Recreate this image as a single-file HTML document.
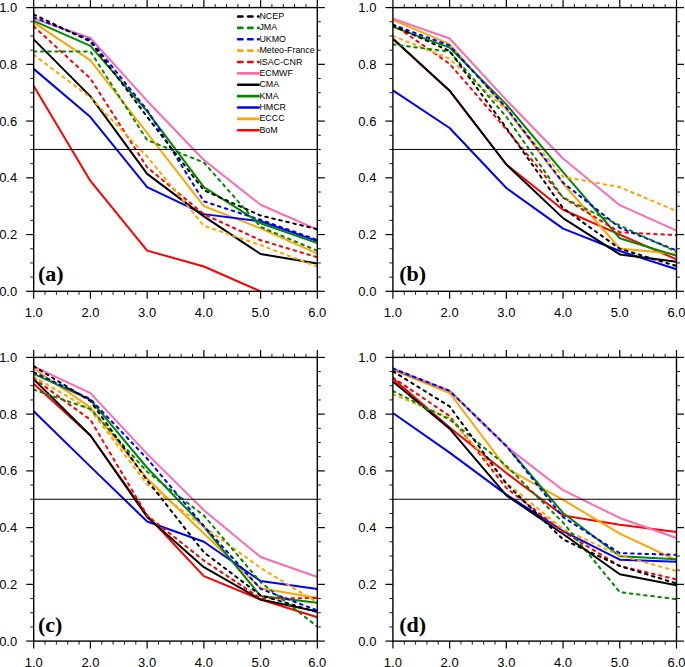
<!DOCTYPE html>
<html><head><meta charset="utf-8"><title>chart</title>
<style>html,body{margin:0;padding:0;background:#fff;}body{width:685px;height:667px;overflow:hidden;}svg{display:block;}.t{font-family:"Liberation Sans",sans-serif;font-size:13px;fill:#000;}.lg{font-family:"Liberation Sans",sans-serif;font-size:8.9px;fill:#000;}.pl{font-family:"Liberation Serif",serif;font-weight:bold;font-size:22px;fill:#000;}</style></head><body>
<svg width="685" height="667" viewBox="0 0 685 667">
<rect x="0" y="0" width="685" height="667" fill="#fff"/>
<defs>
<clipPath id="ca"><rect x="33.7" y="7.6" width="283.6" height="283.7"/></clipPath>
<clipPath id="cb"><rect x="392.9" y="7.6" width="283.6" height="283.7"/></clipPath>
<clipPath id="cc"><rect x="33.7" y="357.4" width="283.6" height="283.7"/></clipPath>
<clipPath id="cd"><rect x="392.9" y="357.4" width="283.6" height="283.7"/></clipPath>
</defs>
<g clip-path="url(#ca)" fill="none" stroke-width="2" stroke-linejoin="round">
<polyline points="33.7,85.9 90.42,180.94 147.14,250.59 203.86,266.5 260.58,291.3" stroke="#ff0000"/>
<polyline points="33.7,22.35 90.42,60.37 147.14,133 203.86,206.19 260.58,228.32 317.3,253.71" stroke="#ffa500"/>
<polyline points="33.7,68.88 90.42,117.11 147.14,187.18 203.86,214.13 260.58,221.23 317.3,241.09" stroke="#0000ff"/>
<polyline points="33.7,20.93 90.42,45.9 147.14,111.43 203.86,187.18 260.58,223.21 317.3,243.07" stroke="#008a00"/>
<polyline points="33.7,39.37 90.42,96.4 147.14,173.85 203.86,216.4 260.58,253.99 317.3,263.5" stroke="#000000"/>
<polyline points="33.7,18.66 90.42,37.96 147.14,100.94 203.86,159.95 260.58,204.77 317.3,229.6" stroke="#ff69b4"/>
<polyline points="33.7,26.32 90.42,78.53 147.14,167.32 203.86,214.13 260.58,240.23 317.3,257.26" stroke="#ff0000" stroke-dasharray="2.6 4.6" stroke-linecap="round"/>
<polyline points="33.7,54.69 90.42,97.53 147.14,156.54 203.86,225.77 260.58,245.06 317.3,266.62" stroke="#ffa500" stroke-dasharray="2.6 4.6" stroke-linecap="round"/>
<polyline points="33.7,17.25 90.42,39.94 147.14,110.02 203.86,201.37 260.58,219.81 317.3,239.95" stroke="#0000ff" stroke-dasharray="2.6 4.6" stroke-linecap="round"/>
<polyline points="33.7,51.57 90.42,51.57 147.14,140.09 203.86,162.5 260.58,226.9 317.3,250.73" stroke="#008a00" stroke-dasharray="2.6 4.6" stroke-linecap="round"/>
<polyline points="33.7,14.41 90.42,41.64 147.14,116.82 203.86,190.3 260.58,215.55 317.3,229.17" stroke="#000000" stroke-dasharray="2.6 4.6" stroke-linecap="round"/>
</g>
<line x1="33.7" y1="149.45" x2="317.3" y2="149.45" stroke="#000" stroke-width="1"/>
<g stroke="#000"><line x1="33.7" y1="7.6" x2="33.7" y2="0.1" stroke-width="1.2"/><line x1="33.7" y1="291.3" x2="33.7" y2="298.8" stroke-width="1.2"/><line x1="45.04" y1="7.6" x2="45.04" y2="4.1" stroke-width="0.9"/><line x1="45.04" y1="291.3" x2="45.04" y2="294.8" stroke-width="0.9"/><line x1="56.39" y1="7.6" x2="56.39" y2="4.1" stroke-width="0.9"/><line x1="56.39" y1="291.3" x2="56.39" y2="294.8" stroke-width="0.9"/><line x1="67.73" y1="7.6" x2="67.73" y2="4.1" stroke-width="0.9"/><line x1="67.73" y1="291.3" x2="67.73" y2="294.8" stroke-width="0.9"/><line x1="79.08" y1="7.6" x2="79.08" y2="4.1" stroke-width="0.9"/><line x1="79.08" y1="291.3" x2="79.08" y2="294.8" stroke-width="0.9"/><line x1="90.42" y1="7.6" x2="90.42" y2="0.1" stroke-width="1.2"/><line x1="90.42" y1="291.3" x2="90.42" y2="298.8" stroke-width="1.2"/><line x1="101.76" y1="7.6" x2="101.76" y2="4.1" stroke-width="0.9"/><line x1="101.76" y1="291.3" x2="101.76" y2="294.8" stroke-width="0.9"/><line x1="113.11" y1="7.6" x2="113.11" y2="4.1" stroke-width="0.9"/><line x1="113.11" y1="291.3" x2="113.11" y2="294.8" stroke-width="0.9"/><line x1="124.45" y1="7.6" x2="124.45" y2="4.1" stroke-width="0.9"/><line x1="124.45" y1="291.3" x2="124.45" y2="294.8" stroke-width="0.9"/><line x1="135.8" y1="7.6" x2="135.8" y2="4.1" stroke-width="0.9"/><line x1="135.8" y1="291.3" x2="135.8" y2="294.8" stroke-width="0.9"/><line x1="147.14" y1="7.6" x2="147.14" y2="0.1" stroke-width="1.2"/><line x1="147.14" y1="291.3" x2="147.14" y2="298.8" stroke-width="1.2"/><line x1="158.48" y1="7.6" x2="158.48" y2="4.1" stroke-width="0.9"/><line x1="158.48" y1="291.3" x2="158.48" y2="294.8" stroke-width="0.9"/><line x1="169.83" y1="7.6" x2="169.83" y2="4.1" stroke-width="0.9"/><line x1="169.83" y1="291.3" x2="169.83" y2="294.8" stroke-width="0.9"/><line x1="181.17" y1="7.6" x2="181.17" y2="4.1" stroke-width="0.9"/><line x1="181.17" y1="291.3" x2="181.17" y2="294.8" stroke-width="0.9"/><line x1="192.52" y1="7.6" x2="192.52" y2="4.1" stroke-width="0.9"/><line x1="192.52" y1="291.3" x2="192.52" y2="294.8" stroke-width="0.9"/><line x1="203.86" y1="7.6" x2="203.86" y2="0.1" stroke-width="1.2"/><line x1="203.86" y1="291.3" x2="203.86" y2="298.8" stroke-width="1.2"/><line x1="215.2" y1="7.6" x2="215.2" y2="4.1" stroke-width="0.9"/><line x1="215.2" y1="291.3" x2="215.2" y2="294.8" stroke-width="0.9"/><line x1="226.55" y1="7.6" x2="226.55" y2="4.1" stroke-width="0.9"/><line x1="226.55" y1="291.3" x2="226.55" y2="294.8" stroke-width="0.9"/><line x1="237.89" y1="7.6" x2="237.89" y2="4.1" stroke-width="0.9"/><line x1="237.89" y1="291.3" x2="237.89" y2="294.8" stroke-width="0.9"/><line x1="249.24" y1="7.6" x2="249.24" y2="4.1" stroke-width="0.9"/><line x1="249.24" y1="291.3" x2="249.24" y2="294.8" stroke-width="0.9"/><line x1="260.58" y1="7.6" x2="260.58" y2="0.1" stroke-width="1.2"/><line x1="260.58" y1="291.3" x2="260.58" y2="298.8" stroke-width="1.2"/><line x1="271.92" y1="7.6" x2="271.92" y2="4.1" stroke-width="0.9"/><line x1="271.92" y1="291.3" x2="271.92" y2="294.8" stroke-width="0.9"/><line x1="283.27" y1="7.6" x2="283.27" y2="4.1" stroke-width="0.9"/><line x1="283.27" y1="291.3" x2="283.27" y2="294.8" stroke-width="0.9"/><line x1="294.61" y1="7.6" x2="294.61" y2="4.1" stroke-width="0.9"/><line x1="294.61" y1="291.3" x2="294.61" y2="294.8" stroke-width="0.9"/><line x1="305.96" y1="7.6" x2="305.96" y2="4.1" stroke-width="0.9"/><line x1="305.96" y1="291.3" x2="305.96" y2="294.8" stroke-width="0.9"/><line x1="317.3" y1="7.6" x2="317.3" y2="0.1" stroke-width="1.2"/><line x1="317.3" y1="291.3" x2="317.3" y2="298.8" stroke-width="1.2"/><line x1="33.7" y1="291.3" x2="26.2" y2="291.3" stroke-width="1.2"/><line x1="317.3" y1="291.3" x2="324.8" y2="291.3" stroke-width="1.2"/><line x1="33.7" y1="277.12" x2="30.2" y2="277.12" stroke-width="0.9"/><line x1="317.3" y1="277.12" x2="320.8" y2="277.12" stroke-width="0.9"/><line x1="33.7" y1="262.93" x2="30.2" y2="262.93" stroke-width="0.9"/><line x1="317.3" y1="262.93" x2="320.8" y2="262.93" stroke-width="0.9"/><line x1="33.7" y1="248.75" x2="30.2" y2="248.75" stroke-width="0.9"/><line x1="317.3" y1="248.75" x2="320.8" y2="248.75" stroke-width="0.9"/><line x1="33.7" y1="234.56" x2="26.2" y2="234.56" stroke-width="1.2"/><line x1="317.3" y1="234.56" x2="324.8" y2="234.56" stroke-width="1.2"/><line x1="33.7" y1="220.38" x2="30.2" y2="220.38" stroke-width="0.9"/><line x1="317.3" y1="220.38" x2="320.8" y2="220.38" stroke-width="0.9"/><line x1="33.7" y1="206.19" x2="30.2" y2="206.19" stroke-width="0.9"/><line x1="317.3" y1="206.19" x2="320.8" y2="206.19" stroke-width="0.9"/><line x1="33.7" y1="192" x2="30.2" y2="192" stroke-width="0.9"/><line x1="317.3" y1="192" x2="320.8" y2="192" stroke-width="0.9"/><line x1="33.7" y1="177.82" x2="26.2" y2="177.82" stroke-width="1.2"/><line x1="317.3" y1="177.82" x2="324.8" y2="177.82" stroke-width="1.2"/><line x1="33.7" y1="163.64" x2="30.2" y2="163.64" stroke-width="0.9"/><line x1="317.3" y1="163.64" x2="320.8" y2="163.64" stroke-width="0.9"/><line x1="33.7" y1="149.45" x2="30.2" y2="149.45" stroke-width="0.9"/><line x1="317.3" y1="149.45" x2="320.8" y2="149.45" stroke-width="0.9"/><line x1="33.7" y1="135.27" x2="30.2" y2="135.27" stroke-width="0.9"/><line x1="317.3" y1="135.27" x2="320.8" y2="135.27" stroke-width="0.9"/><line x1="33.7" y1="121.08" x2="26.2" y2="121.08" stroke-width="1.2"/><line x1="317.3" y1="121.08" x2="324.8" y2="121.08" stroke-width="1.2"/><line x1="33.7" y1="106.9" x2="30.2" y2="106.9" stroke-width="0.9"/><line x1="317.3" y1="106.9" x2="320.8" y2="106.9" stroke-width="0.9"/><line x1="33.7" y1="92.71" x2="30.2" y2="92.71" stroke-width="0.9"/><line x1="317.3" y1="92.71" x2="320.8" y2="92.71" stroke-width="0.9"/><line x1="33.7" y1="78.53" x2="30.2" y2="78.53" stroke-width="0.9"/><line x1="317.3" y1="78.53" x2="320.8" y2="78.53" stroke-width="0.9"/><line x1="33.7" y1="64.34" x2="26.2" y2="64.34" stroke-width="1.2"/><line x1="317.3" y1="64.34" x2="324.8" y2="64.34" stroke-width="1.2"/><line x1="33.7" y1="50.16" x2="30.2" y2="50.16" stroke-width="0.9"/><line x1="317.3" y1="50.16" x2="320.8" y2="50.16" stroke-width="0.9"/><line x1="33.7" y1="35.97" x2="30.2" y2="35.97" stroke-width="0.9"/><line x1="317.3" y1="35.97" x2="320.8" y2="35.97" stroke-width="0.9"/><line x1="33.7" y1="21.79" x2="30.2" y2="21.79" stroke-width="0.9"/><line x1="317.3" y1="21.79" x2="320.8" y2="21.79" stroke-width="0.9"/><line x1="33.7" y1="7.6" x2="26.2" y2="7.6" stroke-width="1.2"/><line x1="317.3" y1="7.6" x2="324.8" y2="7.6" stroke-width="1.2"/></g>
<rect x="33.7" y="7.6" width="283.6" height="283.7" fill="none" stroke="#000" stroke-width="1.4"/>
<text class="t" x="33.7" y="317.3" text-anchor="middle">1.0</text><text class="t" x="90.42" y="317.3" text-anchor="middle">2.0</text><text class="t" x="147.14" y="317.3" text-anchor="middle">3.0</text><text class="t" x="203.86" y="317.3" text-anchor="middle">4.0</text><text class="t" x="260.58" y="317.3" text-anchor="middle">5.0</text><text class="t" x="317.3" y="317.3" text-anchor="middle">6.0</text><text class="t" x="17.2" y="295.9" text-anchor="end">0.0</text><text class="t" x="17.2" y="239.16" text-anchor="end">0.2</text><text class="t" x="17.2" y="182.42" text-anchor="end">0.4</text><text class="t" x="17.2" y="125.68" text-anchor="end">0.6</text><text class="t" x="17.2" y="68.94" text-anchor="end">0.8</text><text class="t" x="17.2" y="12.2" text-anchor="end">1.0</text>
<text class="pl" x="38" y="281.4">(a)</text>
<g clip-path="url(#cb)" fill="none" stroke-width="2" stroke-linejoin="round">
<polyline points="392.9,38.81 449.62,90.72 506.34,164.49 563.06,209.71 619.78,234.56 676.5,259.38" stroke="#ff0000"/>
<polyline points="392.9,19.8 449.62,44.2 506.34,108.88 563.06,183.49 619.78,248.46 676.5,253.99" stroke="#ffa500"/>
<polyline points="392.9,90.3 449.62,128 506.34,188.03 563.06,228.6 619.78,251.01 676.5,269.31" stroke="#0000ff"/>
<polyline points="392.9,26.89 449.62,47.6 506.34,104.34 563.06,172.15 619.78,238.25 676.5,255.84" stroke="#008a00"/>
<polyline points="392.9,38.81 449.62,90.72 506.34,164.49 563.06,218.11 619.78,254.42 676.5,261.8" stroke="#000000"/>
<polyline points="392.9,18.66 449.62,38.52 506.34,100.09 563.06,158.53 619.78,205.2 676.5,230.59" stroke="#ff69b4"/>
<polyline points="392.9,24.05 449.62,63.91 506.34,129.31 563.06,197.68 619.78,232.29 676.5,235.13" stroke="#ff0000" stroke-dasharray="2.6 4.6" stroke-linecap="round"/>
<polyline points="392.9,35.97 449.62,58.67 506.34,109.73 563.06,176.69 619.78,187.18 676.5,211.01" stroke="#ffa500" stroke-dasharray="2.6 4.6" stroke-linecap="round"/>
<polyline points="392.9,24.71 449.62,45.62 506.34,107.89 563.06,182.64 619.78,227.75 676.5,250.45" stroke="#0000ff" stroke-dasharray="2.6 4.6" stroke-linecap="round"/>
<polyline points="392.9,44.48 449.62,51.57 506.34,116.82 563.06,197.68 619.78,225.48 676.5,251.87" stroke="#008a00" stroke-dasharray="2.6 4.6" stroke-linecap="round"/>
<polyline points="392.9,25.61 449.62,51.01 506.34,127.89 563.06,208.18 619.78,248.75 676.5,266.05" stroke="#000000" stroke-dasharray="2.6 4.6" stroke-linecap="round"/>
</g>
<line x1="392.9" y1="149.45" x2="676.5" y2="149.45" stroke="#000" stroke-width="1"/>
<g stroke="#000"><line x1="392.9" y1="7.6" x2="392.9" y2="0.1" stroke-width="1.2"/><line x1="392.9" y1="291.3" x2="392.9" y2="298.8" stroke-width="1.2"/><line x1="404.24" y1="7.6" x2="404.24" y2="4.1" stroke-width="0.9"/><line x1="404.24" y1="291.3" x2="404.24" y2="294.8" stroke-width="0.9"/><line x1="415.59" y1="7.6" x2="415.59" y2="4.1" stroke-width="0.9"/><line x1="415.59" y1="291.3" x2="415.59" y2="294.8" stroke-width="0.9"/><line x1="426.93" y1="7.6" x2="426.93" y2="4.1" stroke-width="0.9"/><line x1="426.93" y1="291.3" x2="426.93" y2="294.8" stroke-width="0.9"/><line x1="438.28" y1="7.6" x2="438.28" y2="4.1" stroke-width="0.9"/><line x1="438.28" y1="291.3" x2="438.28" y2="294.8" stroke-width="0.9"/><line x1="449.62" y1="7.6" x2="449.62" y2="0.1" stroke-width="1.2"/><line x1="449.62" y1="291.3" x2="449.62" y2="298.8" stroke-width="1.2"/><line x1="460.96" y1="7.6" x2="460.96" y2="4.1" stroke-width="0.9"/><line x1="460.96" y1="291.3" x2="460.96" y2="294.8" stroke-width="0.9"/><line x1="472.31" y1="7.6" x2="472.31" y2="4.1" stroke-width="0.9"/><line x1="472.31" y1="291.3" x2="472.31" y2="294.8" stroke-width="0.9"/><line x1="483.65" y1="7.6" x2="483.65" y2="4.1" stroke-width="0.9"/><line x1="483.65" y1="291.3" x2="483.65" y2="294.8" stroke-width="0.9"/><line x1="495" y1="7.6" x2="495" y2="4.1" stroke-width="0.9"/><line x1="495" y1="291.3" x2="495" y2="294.8" stroke-width="0.9"/><line x1="506.34" y1="7.6" x2="506.34" y2="0.1" stroke-width="1.2"/><line x1="506.34" y1="291.3" x2="506.34" y2="298.8" stroke-width="1.2"/><line x1="517.68" y1="7.6" x2="517.68" y2="4.1" stroke-width="0.9"/><line x1="517.68" y1="291.3" x2="517.68" y2="294.8" stroke-width="0.9"/><line x1="529.03" y1="7.6" x2="529.03" y2="4.1" stroke-width="0.9"/><line x1="529.03" y1="291.3" x2="529.03" y2="294.8" stroke-width="0.9"/><line x1="540.37" y1="7.6" x2="540.37" y2="4.1" stroke-width="0.9"/><line x1="540.37" y1="291.3" x2="540.37" y2="294.8" stroke-width="0.9"/><line x1="551.72" y1="7.6" x2="551.72" y2="4.1" stroke-width="0.9"/><line x1="551.72" y1="291.3" x2="551.72" y2="294.8" stroke-width="0.9"/><line x1="563.06" y1="7.6" x2="563.06" y2="0.1" stroke-width="1.2"/><line x1="563.06" y1="291.3" x2="563.06" y2="298.8" stroke-width="1.2"/><line x1="574.4" y1="7.6" x2="574.4" y2="4.1" stroke-width="0.9"/><line x1="574.4" y1="291.3" x2="574.4" y2="294.8" stroke-width="0.9"/><line x1="585.75" y1="7.6" x2="585.75" y2="4.1" stroke-width="0.9"/><line x1="585.75" y1="291.3" x2="585.75" y2="294.8" stroke-width="0.9"/><line x1="597.09" y1="7.6" x2="597.09" y2="4.1" stroke-width="0.9"/><line x1="597.09" y1="291.3" x2="597.09" y2="294.8" stroke-width="0.9"/><line x1="608.44" y1="7.6" x2="608.44" y2="4.1" stroke-width="0.9"/><line x1="608.44" y1="291.3" x2="608.44" y2="294.8" stroke-width="0.9"/><line x1="619.78" y1="7.6" x2="619.78" y2="0.1" stroke-width="1.2"/><line x1="619.78" y1="291.3" x2="619.78" y2="298.8" stroke-width="1.2"/><line x1="631.12" y1="7.6" x2="631.12" y2="4.1" stroke-width="0.9"/><line x1="631.12" y1="291.3" x2="631.12" y2="294.8" stroke-width="0.9"/><line x1="642.47" y1="7.6" x2="642.47" y2="4.1" stroke-width="0.9"/><line x1="642.47" y1="291.3" x2="642.47" y2="294.8" stroke-width="0.9"/><line x1="653.81" y1="7.6" x2="653.81" y2="4.1" stroke-width="0.9"/><line x1="653.81" y1="291.3" x2="653.81" y2="294.8" stroke-width="0.9"/><line x1="665.16" y1="7.6" x2="665.16" y2="4.1" stroke-width="0.9"/><line x1="665.16" y1="291.3" x2="665.16" y2="294.8" stroke-width="0.9"/><line x1="676.5" y1="7.6" x2="676.5" y2="0.1" stroke-width="1.2"/><line x1="676.5" y1="291.3" x2="676.5" y2="298.8" stroke-width="1.2"/><line x1="392.9" y1="291.3" x2="385.4" y2="291.3" stroke-width="1.2"/><line x1="676.5" y1="291.3" x2="684" y2="291.3" stroke-width="1.2"/><line x1="392.9" y1="277.12" x2="389.4" y2="277.12" stroke-width="0.9"/><line x1="676.5" y1="277.12" x2="680" y2="277.12" stroke-width="0.9"/><line x1="392.9" y1="262.93" x2="389.4" y2="262.93" stroke-width="0.9"/><line x1="676.5" y1="262.93" x2="680" y2="262.93" stroke-width="0.9"/><line x1="392.9" y1="248.75" x2="389.4" y2="248.75" stroke-width="0.9"/><line x1="676.5" y1="248.75" x2="680" y2="248.75" stroke-width="0.9"/><line x1="392.9" y1="234.56" x2="385.4" y2="234.56" stroke-width="1.2"/><line x1="676.5" y1="234.56" x2="684" y2="234.56" stroke-width="1.2"/><line x1="392.9" y1="220.38" x2="389.4" y2="220.38" stroke-width="0.9"/><line x1="676.5" y1="220.38" x2="680" y2="220.38" stroke-width="0.9"/><line x1="392.9" y1="206.19" x2="389.4" y2="206.19" stroke-width="0.9"/><line x1="676.5" y1="206.19" x2="680" y2="206.19" stroke-width="0.9"/><line x1="392.9" y1="192" x2="389.4" y2="192" stroke-width="0.9"/><line x1="676.5" y1="192" x2="680" y2="192" stroke-width="0.9"/><line x1="392.9" y1="177.82" x2="385.4" y2="177.82" stroke-width="1.2"/><line x1="676.5" y1="177.82" x2="684" y2="177.82" stroke-width="1.2"/><line x1="392.9" y1="163.64" x2="389.4" y2="163.64" stroke-width="0.9"/><line x1="676.5" y1="163.64" x2="680" y2="163.64" stroke-width="0.9"/><line x1="392.9" y1="149.45" x2="389.4" y2="149.45" stroke-width="0.9"/><line x1="676.5" y1="149.45" x2="680" y2="149.45" stroke-width="0.9"/><line x1="392.9" y1="135.27" x2="389.4" y2="135.27" stroke-width="0.9"/><line x1="676.5" y1="135.27" x2="680" y2="135.27" stroke-width="0.9"/><line x1="392.9" y1="121.08" x2="385.4" y2="121.08" stroke-width="1.2"/><line x1="676.5" y1="121.08" x2="684" y2="121.08" stroke-width="1.2"/><line x1="392.9" y1="106.9" x2="389.4" y2="106.9" stroke-width="0.9"/><line x1="676.5" y1="106.9" x2="680" y2="106.9" stroke-width="0.9"/><line x1="392.9" y1="92.71" x2="389.4" y2="92.71" stroke-width="0.9"/><line x1="676.5" y1="92.71" x2="680" y2="92.71" stroke-width="0.9"/><line x1="392.9" y1="78.53" x2="389.4" y2="78.53" stroke-width="0.9"/><line x1="676.5" y1="78.53" x2="680" y2="78.53" stroke-width="0.9"/><line x1="392.9" y1="64.34" x2="385.4" y2="64.34" stroke-width="1.2"/><line x1="676.5" y1="64.34" x2="684" y2="64.34" stroke-width="1.2"/><line x1="392.9" y1="50.16" x2="389.4" y2="50.16" stroke-width="0.9"/><line x1="676.5" y1="50.16" x2="680" y2="50.16" stroke-width="0.9"/><line x1="392.9" y1="35.97" x2="389.4" y2="35.97" stroke-width="0.9"/><line x1="676.5" y1="35.97" x2="680" y2="35.97" stroke-width="0.9"/><line x1="392.9" y1="21.79" x2="389.4" y2="21.79" stroke-width="0.9"/><line x1="676.5" y1="21.79" x2="680" y2="21.79" stroke-width="0.9"/><line x1="392.9" y1="7.6" x2="385.4" y2="7.6" stroke-width="1.2"/><line x1="676.5" y1="7.6" x2="684" y2="7.6" stroke-width="1.2"/></g>
<rect x="392.9" y="7.6" width="283.6" height="283.7" fill="none" stroke="#000" stroke-width="1.4"/>
<text class="t" x="392.9" y="317.3" text-anchor="middle">1.0</text><text class="t" x="449.62" y="317.3" text-anchor="middle">2.0</text><text class="t" x="506.34" y="317.3" text-anchor="middle">3.0</text><text class="t" x="563.06" y="317.3" text-anchor="middle">4.0</text><text class="t" x="619.78" y="317.3" text-anchor="middle">5.0</text><text class="t" x="676.5" y="317.3" text-anchor="middle">6.0</text><text class="t" x="376.4" y="295.9" text-anchor="end">0.0</text><text class="t" x="376.4" y="239.16" text-anchor="end">0.2</text><text class="t" x="376.4" y="182.42" text-anchor="end">0.4</text><text class="t" x="376.4" y="125.68" text-anchor="end">0.6</text><text class="t" x="376.4" y="68.94" text-anchor="end">0.8</text><text class="t" x="376.4" y="12.2" text-anchor="end">1.0</text>
<text class="pl" x="399.2" y="281.4">(b)</text>
<g clip-path="url(#cc)" fill="none" stroke-width="2" stroke-linejoin="round">
<polyline points="33.7,383.78 90.42,435.5 147.14,515.51 203.86,576.19 260.58,599.51 317.3,617.3" stroke="#ff0000"/>
<polyline points="33.7,368.46 90.42,407.33 147.14,478.54 203.86,533.58 260.58,588.19 317.3,598.09" stroke="#ffa500"/>
<polyline points="33.7,411.3 90.42,466.62 147.14,521.49 203.86,541.8 260.58,581.01 317.3,589.01" stroke="#0000ff"/>
<polyline points="33.7,373.85 90.42,399.81 147.14,467.76 203.86,526.77 260.58,595.99 317.3,602.8" stroke="#008a00"/>
<polyline points="33.7,379.24 90.42,435.5 147.14,516.9 203.86,567.2 260.58,599.51 317.3,611.6" stroke="#000000"/>
<polyline points="33.7,366.48 90.42,393.15 147.14,453.86 203.86,510.2 260.58,556.98 317.3,576.98" stroke="#ff69b4"/>
<polyline points="33.7,378.39 90.42,419.81 147.14,515.51 203.86,560.53 260.58,598.26 317.3,598.09" stroke="#ff0000" stroke-dasharray="2.6 4.6" stroke-linecap="round"/>
<polyline points="33.7,376.69 90.42,410 147.14,484.21 203.86,526.77 260.58,567.91 317.3,602.6" stroke="#ffa500" stroke-dasharray="2.6 4.6" stroke-linecap="round"/>
<polyline points="33.7,372.15 90.42,399.1 147.14,458.68 203.86,526 260.58,588.81 317.3,610.46" stroke="#0000ff" stroke-dasharray="2.6 4.6" stroke-linecap="round"/>
<polyline points="33.7,389.6 90.42,409.03 147.14,471.73 203.86,515.51 260.58,582.2 317.3,626.49" stroke="#008a00" stroke-dasharray="2.6 4.6" stroke-linecap="round"/>
<polyline points="33.7,366.19 90.42,401.09 147.14,480.24 203.86,552.3 260.58,595.31 317.3,612.16" stroke="#000000" stroke-dasharray="2.6 4.6" stroke-linecap="round"/>
</g>
<line x1="33.7" y1="499.25" x2="317.3" y2="499.25" stroke="#000" stroke-width="1"/>
<g stroke="#000"><line x1="33.7" y1="357.4" x2="33.7" y2="349.9" stroke-width="1.2"/><line x1="33.7" y1="641.1" x2="33.7" y2="648.6" stroke-width="1.2"/><line x1="45.04" y1="357.4" x2="45.04" y2="353.9" stroke-width="0.9"/><line x1="45.04" y1="641.1" x2="45.04" y2="644.6" stroke-width="0.9"/><line x1="56.39" y1="357.4" x2="56.39" y2="353.9" stroke-width="0.9"/><line x1="56.39" y1="641.1" x2="56.39" y2="644.6" stroke-width="0.9"/><line x1="67.73" y1="357.4" x2="67.73" y2="353.9" stroke-width="0.9"/><line x1="67.73" y1="641.1" x2="67.73" y2="644.6" stroke-width="0.9"/><line x1="79.08" y1="357.4" x2="79.08" y2="353.9" stroke-width="0.9"/><line x1="79.08" y1="641.1" x2="79.08" y2="644.6" stroke-width="0.9"/><line x1="90.42" y1="357.4" x2="90.42" y2="349.9" stroke-width="1.2"/><line x1="90.42" y1="641.1" x2="90.42" y2="648.6" stroke-width="1.2"/><line x1="101.76" y1="357.4" x2="101.76" y2="353.9" stroke-width="0.9"/><line x1="101.76" y1="641.1" x2="101.76" y2="644.6" stroke-width="0.9"/><line x1="113.11" y1="357.4" x2="113.11" y2="353.9" stroke-width="0.9"/><line x1="113.11" y1="641.1" x2="113.11" y2="644.6" stroke-width="0.9"/><line x1="124.45" y1="357.4" x2="124.45" y2="353.9" stroke-width="0.9"/><line x1="124.45" y1="641.1" x2="124.45" y2="644.6" stroke-width="0.9"/><line x1="135.8" y1="357.4" x2="135.8" y2="353.9" stroke-width="0.9"/><line x1="135.8" y1="641.1" x2="135.8" y2="644.6" stroke-width="0.9"/><line x1="147.14" y1="357.4" x2="147.14" y2="349.9" stroke-width="1.2"/><line x1="147.14" y1="641.1" x2="147.14" y2="648.6" stroke-width="1.2"/><line x1="158.48" y1="357.4" x2="158.48" y2="353.9" stroke-width="0.9"/><line x1="158.48" y1="641.1" x2="158.48" y2="644.6" stroke-width="0.9"/><line x1="169.83" y1="357.4" x2="169.83" y2="353.9" stroke-width="0.9"/><line x1="169.83" y1="641.1" x2="169.83" y2="644.6" stroke-width="0.9"/><line x1="181.17" y1="357.4" x2="181.17" y2="353.9" stroke-width="0.9"/><line x1="181.17" y1="641.1" x2="181.17" y2="644.6" stroke-width="0.9"/><line x1="192.52" y1="357.4" x2="192.52" y2="353.9" stroke-width="0.9"/><line x1="192.52" y1="641.1" x2="192.52" y2="644.6" stroke-width="0.9"/><line x1="203.86" y1="357.4" x2="203.86" y2="349.9" stroke-width="1.2"/><line x1="203.86" y1="641.1" x2="203.86" y2="648.6" stroke-width="1.2"/><line x1="215.2" y1="357.4" x2="215.2" y2="353.9" stroke-width="0.9"/><line x1="215.2" y1="641.1" x2="215.2" y2="644.6" stroke-width="0.9"/><line x1="226.55" y1="357.4" x2="226.55" y2="353.9" stroke-width="0.9"/><line x1="226.55" y1="641.1" x2="226.55" y2="644.6" stroke-width="0.9"/><line x1="237.89" y1="357.4" x2="237.89" y2="353.9" stroke-width="0.9"/><line x1="237.89" y1="641.1" x2="237.89" y2="644.6" stroke-width="0.9"/><line x1="249.24" y1="357.4" x2="249.24" y2="353.9" stroke-width="0.9"/><line x1="249.24" y1="641.1" x2="249.24" y2="644.6" stroke-width="0.9"/><line x1="260.58" y1="357.4" x2="260.58" y2="349.9" stroke-width="1.2"/><line x1="260.58" y1="641.1" x2="260.58" y2="648.6" stroke-width="1.2"/><line x1="271.92" y1="357.4" x2="271.92" y2="353.9" stroke-width="0.9"/><line x1="271.92" y1="641.1" x2="271.92" y2="644.6" stroke-width="0.9"/><line x1="283.27" y1="357.4" x2="283.27" y2="353.9" stroke-width="0.9"/><line x1="283.27" y1="641.1" x2="283.27" y2="644.6" stroke-width="0.9"/><line x1="294.61" y1="357.4" x2="294.61" y2="353.9" stroke-width="0.9"/><line x1="294.61" y1="641.1" x2="294.61" y2="644.6" stroke-width="0.9"/><line x1="305.96" y1="357.4" x2="305.96" y2="353.9" stroke-width="0.9"/><line x1="305.96" y1="641.1" x2="305.96" y2="644.6" stroke-width="0.9"/><line x1="317.3" y1="357.4" x2="317.3" y2="349.9" stroke-width="1.2"/><line x1="317.3" y1="641.1" x2="317.3" y2="648.6" stroke-width="1.2"/><line x1="33.7" y1="641.1" x2="26.2" y2="641.1" stroke-width="1.2"/><line x1="317.3" y1="641.1" x2="324.8" y2="641.1" stroke-width="1.2"/><line x1="33.7" y1="626.91" x2="30.2" y2="626.91" stroke-width="0.9"/><line x1="317.3" y1="626.91" x2="320.8" y2="626.91" stroke-width="0.9"/><line x1="33.7" y1="612.73" x2="30.2" y2="612.73" stroke-width="0.9"/><line x1="317.3" y1="612.73" x2="320.8" y2="612.73" stroke-width="0.9"/><line x1="33.7" y1="598.54" x2="30.2" y2="598.54" stroke-width="0.9"/><line x1="317.3" y1="598.54" x2="320.8" y2="598.54" stroke-width="0.9"/><line x1="33.7" y1="584.36" x2="26.2" y2="584.36" stroke-width="1.2"/><line x1="317.3" y1="584.36" x2="324.8" y2="584.36" stroke-width="1.2"/><line x1="33.7" y1="570.17" x2="30.2" y2="570.17" stroke-width="0.9"/><line x1="317.3" y1="570.17" x2="320.8" y2="570.17" stroke-width="0.9"/><line x1="33.7" y1="555.99" x2="30.2" y2="555.99" stroke-width="0.9"/><line x1="317.3" y1="555.99" x2="320.8" y2="555.99" stroke-width="0.9"/><line x1="33.7" y1="541.8" x2="30.2" y2="541.8" stroke-width="0.9"/><line x1="317.3" y1="541.8" x2="320.8" y2="541.8" stroke-width="0.9"/><line x1="33.7" y1="527.62" x2="26.2" y2="527.62" stroke-width="1.2"/><line x1="317.3" y1="527.62" x2="324.8" y2="527.62" stroke-width="1.2"/><line x1="33.7" y1="513.43" x2="30.2" y2="513.43" stroke-width="0.9"/><line x1="317.3" y1="513.43" x2="320.8" y2="513.43" stroke-width="0.9"/><line x1="33.7" y1="499.25" x2="30.2" y2="499.25" stroke-width="0.9"/><line x1="317.3" y1="499.25" x2="320.8" y2="499.25" stroke-width="0.9"/><line x1="33.7" y1="485.06" x2="30.2" y2="485.06" stroke-width="0.9"/><line x1="317.3" y1="485.06" x2="320.8" y2="485.06" stroke-width="0.9"/><line x1="33.7" y1="470.88" x2="26.2" y2="470.88" stroke-width="1.2"/><line x1="317.3" y1="470.88" x2="324.8" y2="470.88" stroke-width="1.2"/><line x1="33.7" y1="456.69" x2="30.2" y2="456.69" stroke-width="0.9"/><line x1="317.3" y1="456.69" x2="320.8" y2="456.69" stroke-width="0.9"/><line x1="33.7" y1="442.51" x2="30.2" y2="442.51" stroke-width="0.9"/><line x1="317.3" y1="442.51" x2="320.8" y2="442.51" stroke-width="0.9"/><line x1="33.7" y1="428.32" x2="30.2" y2="428.32" stroke-width="0.9"/><line x1="317.3" y1="428.32" x2="320.8" y2="428.32" stroke-width="0.9"/><line x1="33.7" y1="414.14" x2="26.2" y2="414.14" stroke-width="1.2"/><line x1="317.3" y1="414.14" x2="324.8" y2="414.14" stroke-width="1.2"/><line x1="33.7" y1="399.95" x2="30.2" y2="399.95" stroke-width="0.9"/><line x1="317.3" y1="399.95" x2="320.8" y2="399.95" stroke-width="0.9"/><line x1="33.7" y1="385.77" x2="30.2" y2="385.77" stroke-width="0.9"/><line x1="317.3" y1="385.77" x2="320.8" y2="385.77" stroke-width="0.9"/><line x1="33.7" y1="371.58" x2="30.2" y2="371.58" stroke-width="0.9"/><line x1="317.3" y1="371.58" x2="320.8" y2="371.58" stroke-width="0.9"/><line x1="33.7" y1="357.4" x2="26.2" y2="357.4" stroke-width="1.2"/><line x1="317.3" y1="357.4" x2="324.8" y2="357.4" stroke-width="1.2"/></g>
<rect x="33.7" y="357.4" width="283.6" height="283.7" fill="none" stroke="#000" stroke-width="1.4"/>
<text class="t" x="33.7" y="667.1" text-anchor="middle">1.0</text><text class="t" x="90.42" y="667.1" text-anchor="middle">2.0</text><text class="t" x="147.14" y="667.1" text-anchor="middle">3.0</text><text class="t" x="203.86" y="667.1" text-anchor="middle">4.0</text><text class="t" x="260.58" y="667.1" text-anchor="middle">5.0</text><text class="t" x="317.3" y="667.1" text-anchor="middle">6.0</text><text class="t" x="17.2" y="645.7" text-anchor="end">0.0</text><text class="t" x="17.2" y="588.96" text-anchor="end">0.2</text><text class="t" x="17.2" y="532.22" text-anchor="end">0.4</text><text class="t" x="17.2" y="475.48" text-anchor="end">0.6</text><text class="t" x="17.2" y="418.74" text-anchor="end">0.8</text><text class="t" x="17.2" y="362" text-anchor="end">1.0</text>
<text class="pl" x="38" y="631.9">(c)</text>
<g clip-path="url(#cd)" fill="none" stroke-width="2" stroke-linejoin="round">
<polyline points="392.9,378.39 449.62,427.47 506.34,473.01 563.06,515.42 619.78,524.78 676.5,531.99" stroke="#ff0000"/>
<polyline points="392.9,369.88 449.62,393 506.34,468.18 563.06,499.82 619.78,533.69 676.5,560.25" stroke="#ffa500"/>
<polyline points="392.9,413.01 449.62,452.58 506.34,494.6 563.06,531.02 619.78,559.68 676.5,561.66" stroke="#0000ff"/>
<polyline points="392.9,369.32 449.62,390.88 506.34,445.91 563.06,513.01 619.78,556.27 676.5,559.31" stroke="#008a00"/>
<polyline points="392.9,381.51 449.62,428.61 506.34,495.39 563.06,534 619.78,574.2 676.5,585.3" stroke="#000000"/>
<polyline points="392.9,368.46 449.62,390.88 506.34,446.6 563.06,490.17 619.78,517.97 676.5,538" stroke="#ff69b4"/>
<polyline points="392.9,377.54 449.62,415.98 506.34,487.99 563.06,531.59 619.78,566 676.5,579.4" stroke="#ff0000" stroke-dasharray="2.6 4.6" stroke-linecap="round"/>
<polyline points="392.9,394.28 449.62,417.83 506.34,482.8 563.06,529.04 619.78,555.51 676.5,571.03" stroke="#ffa500" stroke-dasharray="2.6 4.6" stroke-linecap="round"/>
<polyline points="392.9,368.46 449.62,390.88 506.34,445.91 563.06,517.21 619.78,553.15 676.5,554.8" stroke="#0000ff" stroke-dasharray="2.6 4.6" stroke-linecap="round"/>
<polyline points="392.9,390.99 449.62,419.53 506.34,465.77 563.06,522.6 619.78,592.19 676.5,599.11" stroke="#008a00" stroke-dasharray="2.6 4.6" stroke-linecap="round"/>
<polyline points="392.9,371.3 449.62,406.39 506.34,483.79 563.06,539.39 619.78,566 676.5,583.51" stroke="#000000" stroke-dasharray="2.6 4.6" stroke-linecap="round"/>
</g>
<line x1="392.9" y1="499.25" x2="676.5" y2="499.25" stroke="#000" stroke-width="1"/>
<g stroke="#000"><line x1="392.9" y1="357.4" x2="392.9" y2="349.9" stroke-width="1.2"/><line x1="392.9" y1="641.1" x2="392.9" y2="648.6" stroke-width="1.2"/><line x1="404.24" y1="357.4" x2="404.24" y2="353.9" stroke-width="0.9"/><line x1="404.24" y1="641.1" x2="404.24" y2="644.6" stroke-width="0.9"/><line x1="415.59" y1="357.4" x2="415.59" y2="353.9" stroke-width="0.9"/><line x1="415.59" y1="641.1" x2="415.59" y2="644.6" stroke-width="0.9"/><line x1="426.93" y1="357.4" x2="426.93" y2="353.9" stroke-width="0.9"/><line x1="426.93" y1="641.1" x2="426.93" y2="644.6" stroke-width="0.9"/><line x1="438.28" y1="357.4" x2="438.28" y2="353.9" stroke-width="0.9"/><line x1="438.28" y1="641.1" x2="438.28" y2="644.6" stroke-width="0.9"/><line x1="449.62" y1="357.4" x2="449.62" y2="349.9" stroke-width="1.2"/><line x1="449.62" y1="641.1" x2="449.62" y2="648.6" stroke-width="1.2"/><line x1="460.96" y1="357.4" x2="460.96" y2="353.9" stroke-width="0.9"/><line x1="460.96" y1="641.1" x2="460.96" y2="644.6" stroke-width="0.9"/><line x1="472.31" y1="357.4" x2="472.31" y2="353.9" stroke-width="0.9"/><line x1="472.31" y1="641.1" x2="472.31" y2="644.6" stroke-width="0.9"/><line x1="483.65" y1="357.4" x2="483.65" y2="353.9" stroke-width="0.9"/><line x1="483.65" y1="641.1" x2="483.65" y2="644.6" stroke-width="0.9"/><line x1="495" y1="357.4" x2="495" y2="353.9" stroke-width="0.9"/><line x1="495" y1="641.1" x2="495" y2="644.6" stroke-width="0.9"/><line x1="506.34" y1="357.4" x2="506.34" y2="349.9" stroke-width="1.2"/><line x1="506.34" y1="641.1" x2="506.34" y2="648.6" stroke-width="1.2"/><line x1="517.68" y1="357.4" x2="517.68" y2="353.9" stroke-width="0.9"/><line x1="517.68" y1="641.1" x2="517.68" y2="644.6" stroke-width="0.9"/><line x1="529.03" y1="357.4" x2="529.03" y2="353.9" stroke-width="0.9"/><line x1="529.03" y1="641.1" x2="529.03" y2="644.6" stroke-width="0.9"/><line x1="540.37" y1="357.4" x2="540.37" y2="353.9" stroke-width="0.9"/><line x1="540.37" y1="641.1" x2="540.37" y2="644.6" stroke-width="0.9"/><line x1="551.72" y1="357.4" x2="551.72" y2="353.9" stroke-width="0.9"/><line x1="551.72" y1="641.1" x2="551.72" y2="644.6" stroke-width="0.9"/><line x1="563.06" y1="357.4" x2="563.06" y2="349.9" stroke-width="1.2"/><line x1="563.06" y1="641.1" x2="563.06" y2="648.6" stroke-width="1.2"/><line x1="574.4" y1="357.4" x2="574.4" y2="353.9" stroke-width="0.9"/><line x1="574.4" y1="641.1" x2="574.4" y2="644.6" stroke-width="0.9"/><line x1="585.75" y1="357.4" x2="585.75" y2="353.9" stroke-width="0.9"/><line x1="585.75" y1="641.1" x2="585.75" y2="644.6" stroke-width="0.9"/><line x1="597.09" y1="357.4" x2="597.09" y2="353.9" stroke-width="0.9"/><line x1="597.09" y1="641.1" x2="597.09" y2="644.6" stroke-width="0.9"/><line x1="608.44" y1="357.4" x2="608.44" y2="353.9" stroke-width="0.9"/><line x1="608.44" y1="641.1" x2="608.44" y2="644.6" stroke-width="0.9"/><line x1="619.78" y1="357.4" x2="619.78" y2="349.9" stroke-width="1.2"/><line x1="619.78" y1="641.1" x2="619.78" y2="648.6" stroke-width="1.2"/><line x1="631.12" y1="357.4" x2="631.12" y2="353.9" stroke-width="0.9"/><line x1="631.12" y1="641.1" x2="631.12" y2="644.6" stroke-width="0.9"/><line x1="642.47" y1="357.4" x2="642.47" y2="353.9" stroke-width="0.9"/><line x1="642.47" y1="641.1" x2="642.47" y2="644.6" stroke-width="0.9"/><line x1="653.81" y1="357.4" x2="653.81" y2="353.9" stroke-width="0.9"/><line x1="653.81" y1="641.1" x2="653.81" y2="644.6" stroke-width="0.9"/><line x1="665.16" y1="357.4" x2="665.16" y2="353.9" stroke-width="0.9"/><line x1="665.16" y1="641.1" x2="665.16" y2="644.6" stroke-width="0.9"/><line x1="676.5" y1="357.4" x2="676.5" y2="349.9" stroke-width="1.2"/><line x1="676.5" y1="641.1" x2="676.5" y2="648.6" stroke-width="1.2"/><line x1="392.9" y1="641.1" x2="385.4" y2="641.1" stroke-width="1.2"/><line x1="676.5" y1="641.1" x2="684" y2="641.1" stroke-width="1.2"/><line x1="392.9" y1="626.91" x2="389.4" y2="626.91" stroke-width="0.9"/><line x1="676.5" y1="626.91" x2="680" y2="626.91" stroke-width="0.9"/><line x1="392.9" y1="612.73" x2="389.4" y2="612.73" stroke-width="0.9"/><line x1="676.5" y1="612.73" x2="680" y2="612.73" stroke-width="0.9"/><line x1="392.9" y1="598.54" x2="389.4" y2="598.54" stroke-width="0.9"/><line x1="676.5" y1="598.54" x2="680" y2="598.54" stroke-width="0.9"/><line x1="392.9" y1="584.36" x2="385.4" y2="584.36" stroke-width="1.2"/><line x1="676.5" y1="584.36" x2="684" y2="584.36" stroke-width="1.2"/><line x1="392.9" y1="570.17" x2="389.4" y2="570.17" stroke-width="0.9"/><line x1="676.5" y1="570.17" x2="680" y2="570.17" stroke-width="0.9"/><line x1="392.9" y1="555.99" x2="389.4" y2="555.99" stroke-width="0.9"/><line x1="676.5" y1="555.99" x2="680" y2="555.99" stroke-width="0.9"/><line x1="392.9" y1="541.8" x2="389.4" y2="541.8" stroke-width="0.9"/><line x1="676.5" y1="541.8" x2="680" y2="541.8" stroke-width="0.9"/><line x1="392.9" y1="527.62" x2="385.4" y2="527.62" stroke-width="1.2"/><line x1="676.5" y1="527.62" x2="684" y2="527.62" stroke-width="1.2"/><line x1="392.9" y1="513.43" x2="389.4" y2="513.43" stroke-width="0.9"/><line x1="676.5" y1="513.43" x2="680" y2="513.43" stroke-width="0.9"/><line x1="392.9" y1="499.25" x2="389.4" y2="499.25" stroke-width="0.9"/><line x1="676.5" y1="499.25" x2="680" y2="499.25" stroke-width="0.9"/><line x1="392.9" y1="485.06" x2="389.4" y2="485.06" stroke-width="0.9"/><line x1="676.5" y1="485.06" x2="680" y2="485.06" stroke-width="0.9"/><line x1="392.9" y1="470.88" x2="385.4" y2="470.88" stroke-width="1.2"/><line x1="676.5" y1="470.88" x2="684" y2="470.88" stroke-width="1.2"/><line x1="392.9" y1="456.69" x2="389.4" y2="456.69" stroke-width="0.9"/><line x1="676.5" y1="456.69" x2="680" y2="456.69" stroke-width="0.9"/><line x1="392.9" y1="442.51" x2="389.4" y2="442.51" stroke-width="0.9"/><line x1="676.5" y1="442.51" x2="680" y2="442.51" stroke-width="0.9"/><line x1="392.9" y1="428.32" x2="389.4" y2="428.32" stroke-width="0.9"/><line x1="676.5" y1="428.32" x2="680" y2="428.32" stroke-width="0.9"/><line x1="392.9" y1="414.14" x2="385.4" y2="414.14" stroke-width="1.2"/><line x1="676.5" y1="414.14" x2="684" y2="414.14" stroke-width="1.2"/><line x1="392.9" y1="399.95" x2="389.4" y2="399.95" stroke-width="0.9"/><line x1="676.5" y1="399.95" x2="680" y2="399.95" stroke-width="0.9"/><line x1="392.9" y1="385.77" x2="389.4" y2="385.77" stroke-width="0.9"/><line x1="676.5" y1="385.77" x2="680" y2="385.77" stroke-width="0.9"/><line x1="392.9" y1="371.58" x2="389.4" y2="371.58" stroke-width="0.9"/><line x1="676.5" y1="371.58" x2="680" y2="371.58" stroke-width="0.9"/><line x1="392.9" y1="357.4" x2="385.4" y2="357.4" stroke-width="1.2"/><line x1="676.5" y1="357.4" x2="684" y2="357.4" stroke-width="1.2"/></g>
<rect x="392.9" y="357.4" width="283.6" height="283.7" fill="none" stroke="#000" stroke-width="1.4"/>
<text class="t" x="392.9" y="667.1" text-anchor="middle">1.0</text><text class="t" x="449.62" y="667.1" text-anchor="middle">2.0</text><text class="t" x="506.34" y="667.1" text-anchor="middle">3.0</text><text class="t" x="563.06" y="667.1" text-anchor="middle">4.0</text><text class="t" x="619.78" y="667.1" text-anchor="middle">5.0</text><text class="t" x="676.5" y="667.1" text-anchor="middle">6.0</text><text class="t" x="376.4" y="645.7" text-anchor="end">0.0</text><text class="t" x="376.4" y="588.96" text-anchor="end">0.2</text><text class="t" x="376.4" y="532.22" text-anchor="end">0.4</text><text class="t" x="376.4" y="475.48" text-anchor="end">0.6</text><text class="t" x="376.4" y="418.74" text-anchor="end">0.8</text><text class="t" x="376.4" y="362" text-anchor="end">1.0</text>
<text class="pl" x="399.2" y="631.9">(d)</text>
<g fill="none" stroke-width="2.6" stroke-linecap="round">
<line x1="238.1" y1="16.5" x2="258.6" y2="16.5" stroke="#000000" stroke-dasharray="4.4 5.6"/>
<line x1="238.1" y1="27.88" x2="258.6" y2="27.88" stroke="#008a00" stroke-dasharray="4.4 5.6"/>
<line x1="238.1" y1="39.26" x2="258.6" y2="39.26" stroke="#0000ff" stroke-dasharray="4.4 5.6"/>
<line x1="238.1" y1="50.64" x2="258.6" y2="50.64" stroke="#ffa500" stroke-dasharray="4.4 5.6"/>
<line x1="238.1" y1="62.02" x2="258.6" y2="62.02" stroke="#ff0000" stroke-dasharray="4.4 5.6"/>
<line x1="238.1" y1="73.4" x2="258.6" y2="73.4" stroke="#ff69b4"/>
<line x1="238.1" y1="84.78" x2="258.6" y2="84.78" stroke="#000000"/>
<line x1="238.1" y1="96.16" x2="258.6" y2="96.16" stroke="#008a00"/>
<line x1="238.1" y1="107.54" x2="258.6" y2="107.54" stroke="#0000ff"/>
<line x1="238.1" y1="118.92" x2="258.6" y2="118.92" stroke="#ffa500"/>
<line x1="238.1" y1="130.3" x2="258.6" y2="130.3" stroke="#ff0000"/>
</g>
<text class="lg" x="259.4" y="19.05">NCEP</text>
<text class="lg" x="259.4" y="30.43">JMA</text>
<text class="lg" x="259.4" y="41.81">UKMO</text>
<text class="lg" x="259.4" y="53.19">Meteo-France</text>
<text class="lg" x="259.4" y="64.57">ISAC-CNR</text>
<text class="lg" x="259.4" y="75.95">ECMWF</text>
<text class="lg" x="259.4" y="87.33">CMA</text>
<text class="lg" x="259.4" y="98.71">KMA</text>
<text class="lg" x="259.4" y="110.09">HMCR</text>
<text class="lg" x="259.4" y="121.47">ECCC</text>
<text class="lg" x="259.4" y="132.85">BoM</text>
</svg></body></html>
